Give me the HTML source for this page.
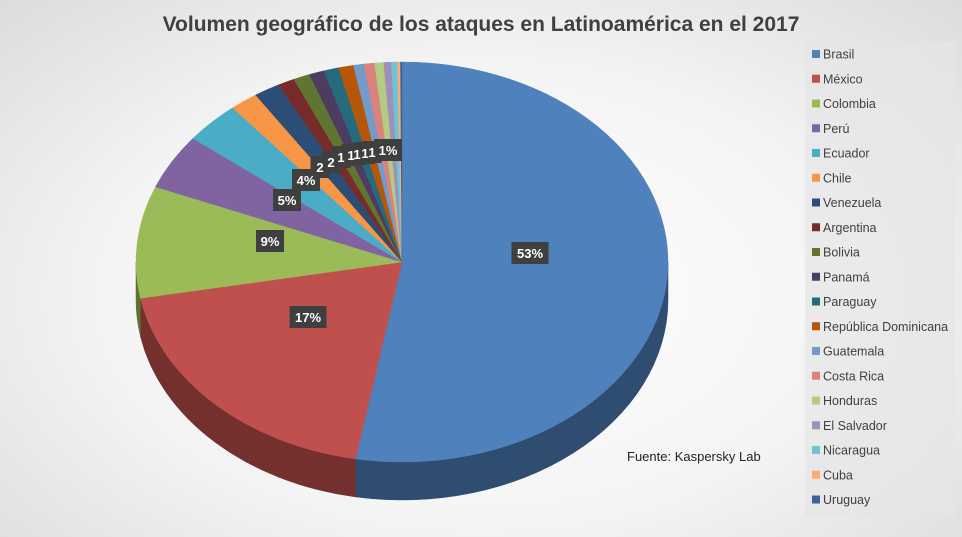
<!DOCTYPE html>
<html><head><meta charset="utf-8"><style>
html,body{margin:0;padding:0}
body{width:962px;height:537px;overflow:hidden;background:radial-gradient(ellipse at 50% 55%,#ffffff 0%,#f4f4f4 55%,#dcdcdc 100%);font-family:"Liberation Sans",sans-serif}
</style></head><body>
<svg id="s" width="962" height="537" xmlns="http://www.w3.org/2000/svg" style="position:absolute;left:0;top:0"></svg>
<script>
var data=[["Brasil",53,"#4f81bd"],["México",17,"#c0504d"],["Colombia",9,"#9bbb59"],["Perú",5,"#8064a2"],["Ecuador",4,"#4bacc6"],["Chile",2,"#f79646"],["Venezuela",2,"#2c4d75"],["Argentina",1.2,"#772c2a"],["Bolivia",1.1,"#5f7530"],["Panamá",1,"#4d3b62"],["Paraguay",1,"#276a7c"],["República Dominicana",1,"#b65708"],["Guatemala",0.7,"#729aca"],["Costa Rica",0.7,"#d9827f"],["Honduras",0.6,"#b3cc82"],["El Salvador",0.5,"#a08fb9"],["Nicaragua",0.4,"#6ec3d6"],["Cuba",0.2,"#f9ad73"],["Uruguay",0.1,"#3a6495"]];
var tot=0;data.forEach(d=>tot+=d[1]);
var W=[[0,0],[0.53,191],[0.70,261],[0.79,293.5],[0.84,309.5],[0.88,321.8],[0.90,328],[0.92,333.6],[1,360]];
function warp(f){for(var i=1;i<W.length;i++){if(f<=W[i][0]+1e-9){var t=(f-W[i-1][0])/(W[i][0]-W[i-1][0]);return W[i-1][1]+t*(W[i][1]-W[i-1][1]);}}return 360;}
var cx=402,cy=262,rx=266,ry=200,dp=38;
function P(a,dy){var r=a*Math.PI/180;return [cx+rx*Math.sin(r),cy-ry*Math.cos(r)+(dy||0)];}
function dark(c,f){var n=parseInt(c.slice(1),16);var r=(n>>16)*f,g=(n>>8&255)*f,b=(n&255)*f;return "rgb("+[r,g,b].map(Math.round).join(",")+")";}
var h='';var c=0,sl=[];
data.forEach(d=>{var c2=c+d[1]/tot;sl.push([warp(c),warp(c2),d]);c=c2;});
sl.forEach(s=>{var a1=Math.max(s[0],90),a2=Math.min(s[1],270);if(a2<=a1)return;
var p1=P(a1),p2=P(a2),q2=P(a2,dp),q1=P(a1,dp),lg=(a2-a1)>180?1:0;
h+='<path d="M'+p1+' A'+rx+','+ry+' 0 '+lg+' 1 '+p2+' L'+q2+' A'+rx+','+ry+' 0 '+lg+' 0 '+q1+' Z" fill="'+dark(s[2][2],0.6)+'" stroke="'+dark(s[2][2],0.6)+'" stroke-width="0.5"/>';});
sl.forEach(s=>{var p1=P(s[0]),p2=P(s[1]),lg=(s[1]-s[0])>180?1:0;
h+='<path d="M'+cx+','+cy+' L'+p1+' A'+rx+','+ry+' 0 '+lg+' 1 '+p2+' Z" fill="'+s[2][2]+'" stroke="'+s[2][2]+'" stroke-width="0.5"/>';});
var L=[["53%",530,253],["17%",308,317],["9%",270,241],["5%",287,200],["4%",306,180],["2",320,167],["2",331,162],["1",341,157],["1",351,155],["1",357,154],["1",365,153],["1",372,152],["1%",388,150]];
L.forEach(l=>{var w=l[0].length*9+10;h+='<rect x="'+(l[1]-w/2)+'" y="'+(l[2]-11)+'" width="'+w+'" height="22" fill="#3f3f3f"/>';});
L.forEach(l=>{h+='<text x="'+l[1]+'" y="'+(l[2]+5)+'" fill="#fff" font-size="13" font-weight="bold" text-anchor="middle">'+l[0]+'</text>';});
h+='<text x="481" y="31" text-anchor="middle" font-size="21" font-weight="bold" fill="#404040">Volumen geográfico de los ataques en Latinoamérica en el 2017</text>';
h+='<text x="627" y="461" font-size="13" fill="#222">Fuente: Kaspersky Lab</text>';
h+='<rect x="805" y="42" width="150" height="475" fill="#e6e6e6" opacity="0.7"/>';
data.forEach((d,i)=>{var y=54+i*24.75;h+='<rect x="812" y="'+(y-4)+'" width="8" height="8" fill="'+d[2]+'"/><text x="823" y="'+(y+4.5)+'" font-size="12.5" fill="#404040">'+d[0]+'</text>';});
document.getElementById('s').innerHTML=h;
</script>
</body></html>
